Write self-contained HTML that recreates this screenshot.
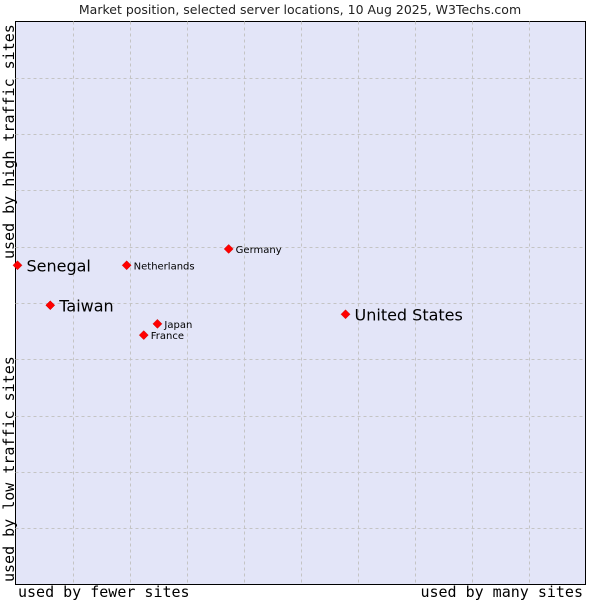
<!DOCTYPE html>
<html><head><meta charset="utf-8"><style>
body{margin:0;background:#fff;}
svg text{font-family:"DejaVu Sans","Liberation Sans",sans-serif;}
.mono{font-family:"DejaVu Sans Mono","Liberation Mono",monospace;}
</style></head><body>
<svg id="c" width="600" height="600" xmlns="http://www.w3.org/2000/svg">
<text x="300" y="14" font-size="12.5" text-anchor="middle" fill="#222">Market position, selected server locations, 10 Aug 2025, W3Techs.com</text>
<rect x="15.5" y="21.5" width="570" height="563" fill="#e3e5f8" stroke="#000"/>
<g id="grid"></g>
<g id="pts"></g>
<text class="mono" x="18" y="597" font-size="15">used by fewer sites</text>
<text class="mono" x="583" y="597" font-size="15" text-anchor="end">used by many sites</text>
<text class="mono" transform="translate(14,259) rotate(-90)" font-size="15">used by high traffic sites</text>
<text class="mono" transform="translate(14,582) rotate(-90)" font-size="15">used by low traffic sites</text>
</svg>
<script>
const names=["Senegal","Taiwan","Netherlands","Germany","Japan","France","United States"];
const xVals=[0.035,0.61,1.95,3.74,2.49,2.25,5.79];
const yVals=[5.67,4.96,5.67,5.96,4.63,4.43,4.80];
const big=[true,true,false,false,false,false,true];
const L=15.5,T=21.5,W=570,H=563;
const sx=v=>L+v/10*W, sy=v=>T+H-v/10*H;
const ns="http://www.w3.org/2000/svg";
const g=document.getElementById('grid'), p=document.getElementById('pts');
for(let i=1;i<10;i++){
 const a=document.createElementNS(ns,'line');
 a.setAttribute('x1',Math.round(sx(i))+0.5);a.setAttribute('x2',Math.round(sx(i))+0.5);a.setAttribute('y1',T);a.setAttribute('y2',T+H);
 a.setAttribute('stroke','#c4c4c4');a.setAttribute('stroke-dasharray','3,3');
 
 
 g.appendChild(a);
 const b=document.createElementNS(ns,'line');
 b.setAttribute('y1',Math.round(sy(i))+0.5);b.setAttribute('y2',Math.round(sy(i))+0.5);b.setAttribute('x1',L);b.setAttribute('x2',L+W);
 b.setAttribute('stroke','#c4c4c4');b.setAttribute('stroke-dasharray','3,3');
 
 
 g.appendChild(b);
}
names.forEach((n,i)=>{
 const x=sx(xVals[i]), y=sy(yVals[i]);
 const d=document.createElementNS(ns,'path');
 d.setAttribute('d',`M${x} ${y-4.5}L${x+4.5} ${y}L${x} ${y+4.5}L${x-4.5} ${y}Z`);
 d.setAttribute('fill','#f00');d.setAttribute('stroke','#c00');d.setAttribute('stroke-width','0.5');
 
 
 p.appendChild(d);
 const t=document.createElementNS(ns,'text');
 t.setAttribute('x',x+(big[i]?9:7));t.setAttribute('y',y+(big[i]?6:4));
 t.setAttribute('font-size',big[i]?16:10);t.textContent=n;
 
 
 p.appendChild(t);
});
</script>
</body></html>
